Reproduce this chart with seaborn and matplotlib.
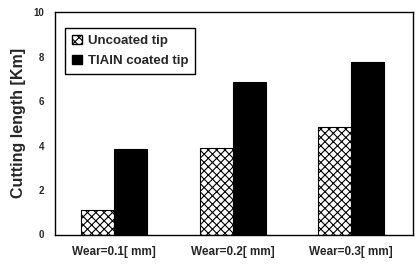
import pandas as pd
import matplotlib
matplotlib.use("Agg")
import matplotlib.pyplot as plt
import seaborn as sns
from matplotlib.patches import Patch

# values
wear = ["Wear=0.1[ mm]", "Wear=0.2[ mm]", "Wear=0.3[ mm]"]
tips = ["Uncoated tip", "TIAlN coated tip"]
uncoated = [1.1, 3.9, 4.85]
coated = [3.85, 6.85, 7.75]
yticks = [0, 2, 4, 6, 8, 10]

df = pd.DataFrame({
    "Wear": wear * 2,
    "Tip": [tips[0]] * 3 + [tips[1]] * 3,
    "Length": uncoated + coated,
})

sns.set_style("white")
plt.rcParams["font.family"] = ["Liberation Sans", "DejaVu Sans"]
plt.rcParams["font.weight"] = "bold"
plt.rcParams["hatch.linewidth"] = 0.8

fig, ax = plt.subplots(figsize=(4.17, 2.68), dpi=100)
sns.barplot(data=df, x="Wear", y="Length", hue="Tip", order=wear, hue_order=tips,
            palette=["white", "black"], width=0.56, gap=0, edgecolor="black",
            linewidth=0.8, ax=ax, legend=False)

# hatch the uncoated bars
for bar in ax.containers[0]:
    bar.set_hatch("xxxx")

ax.set_xlim(-0.5, 2.52)
ax.set_ylim(0, 10)
ax.set_yticks(yticks)
ax.set_yticks([1, 3, 5, 7, 9], minor=True)
ax.tick_params(axis="y", direction="in", length=3, labelsize=7, pad=8)
ax.tick_params(axis="y", which="minor", direction="in", length=2)
ax.tick_params(axis="x", length=0, labelsize=8.5, pad=8)
for lab in ax.get_yticklabels() + ax.get_xticklabels():
    lab.set_fontweight("bold")
ax.set_xlabel("")
ax.set_ylabel("Cutting length [Km]", fontsize=11.5, fontweight="bold", labelpad=5)
for s in ax.spines.values():
    s.set_color("black")
    s.set_linewidth(1.0)

handles = [Patch(facecolor="white", edgecolor="black", hatch="xxxx", label=tips[0]),
           Patch(facecolor="black", edgecolor="black", label=tips[1])]
leg = ax.legend(handles=handles, loc="upper left", bbox_to_anchor=(0.01, 0.96),
                fancybox=False, edgecolor="black", framealpha=1,
                prop={"size": 9.5, "weight": "bold"}, handlelength=0.75,
                handleheight=0.75, handletextpad=0.4, borderpad=0.55, labelspacing=0.55)
leg.get_frame().set_linewidth(1.0)

fig.subplots_adjust(left=0.132, right=0.99, top=0.955, bottom=0.125)
fig.savefig("out.png", dpi=100)
